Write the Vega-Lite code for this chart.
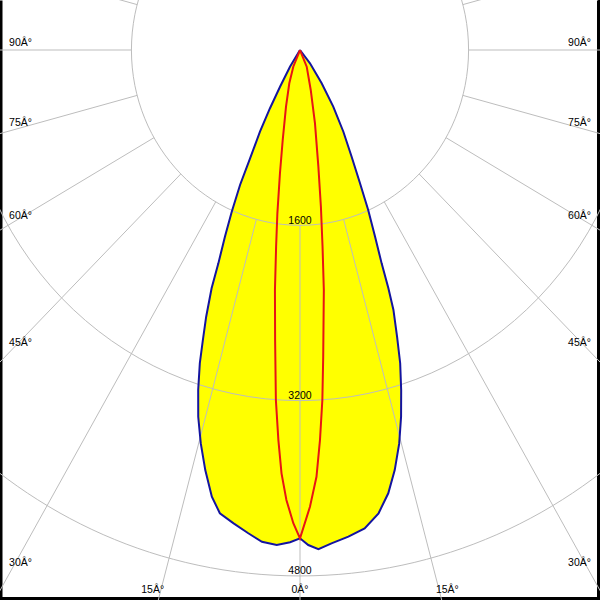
{
  "$schema": "https://vega.github.io/schema/vega-lite/v6.json",
  "width": 600,
  "height": 600,
  "padding": 0,
  "autosize": {"type": "none"},
  "background": "white",
  "config": {
    "view": {"stroke": null},
    "axis": {"labels": false, "ticks": false, "grid": false, "title": null, "domain": false},
    "text": {"font": "Liberation Sans", "fontSize": 10.5, "color": "black"}
  },
  "resolve": {"axis": {"y": "independent"}},
  "datasets": {
    "curves": [
      {"plane": "C0-C180", "angle": -34, "cd": 0},
      {"plane": "C0-C180", "angle": -31.9, "cd": 180},
      {"plane": "C0-C180", "angle": -29.5, "cd": 385},
      {"plane": "C0-C180", "angle": -28.2, "cd": 603},
      {"plane": "C0-C180", "angle": -27.0, "cd": 837},
      {"plane": "C0-C180", "angle": -25.6, "cd": 1097},
      {"plane": "C0-C180", "angle": -24.8, "cd": 1357},
      {"plane": "C0-C180", "angle": -23.7, "cd": 1612},
      {"plane": "C0-C180", "angle": -22.7, "cd": 1847},
      {"plane": "C0-C180", "angle": -21.7, "cd": 2096},
      {"plane": "C0-C180", "angle": -21.1, "cd": 2331},
      {"plane": "C0-C180", "angle": -20.1, "cd": 2592},
      {"plane": "C0-C180", "angle": -19.2, "cd": 2804},
      {"plane": "C0-C180", "angle": -18.4, "cd": 3013},
      {"plane": "C0-C180", "angle": -17.3, "cd": 3250},
      {"plane": "C0-C180", "angle": -16.1, "cd": 3484},
      {"plane": "C0-C180", "angle": -14.7, "cd": 3712},
      {"plane": "C0-C180", "angle": -13.2, "cd": 3938},
      {"plane": "C0-C180", "angle": -11.6, "cd": 4162},
      {"plane": "C0-C180", "angle": -10.2, "cd": 4296},
      {"plane": "C0-C180", "angle": -8.3, "cd": 4366},
      {"plane": "C0-C180", "angle": -6.35, "cd": 4438},
      {"plane": "C0-C180", "angle": -4.6, "cd": 4503},
      {"plane": "C0-C180", "angle": -2.8, "cd": 4523},
      {"plane": "C0-C180", "angle": -1.2, "cd": 4494},
      {"plane": "C0-C180", "angle": 0, "cd": 4457},
      {"plane": "C0-C180", "angle": 1.0, "cd": 4519},
      {"plane": "C0-C180", "angle": 2.2, "cd": 4560},
      {"plane": "C0-C180", "angle": 3.8, "cd": 4513},
      {"plane": "C0-C180", "angle": 5.9, "cd": 4466},
      {"plane": "C0-C180", "angle": 8.0, "cd": 4409},
      {"plane": "C0-C180", "angle": 10.0, "cd": 4294},
      {"plane": "C0-C180", "angle": 11.7, "cd": 4132},
      {"plane": "C0-C180", "angle": 13.2, "cd": 3938},
      {"plane": "C0-C180", "angle": 14.7, "cd": 3712},
      {"plane": "C0-C180", "angle": 16.0, "cd": 3481},
      {"plane": "C0-C180", "angle": 17.2, "cd": 3248},
      {"plane": "C0-C180", "angle": 18.4, "cd": 3013},
      {"plane": "C0-C180", "angle": 19.4, "cd": 2775},
      {"plane": "C0-C180", "angle": 20.5, "cd": 2533},
      {"plane": "C0-C180", "angle": 21.1, "cd": 2331},
      {"plane": "C0-C180", "angle": 21.7, "cd": 2096},
      {"plane": "C0-C180", "angle": 22.7, "cd": 1847},
      {"plane": "C0-C180", "angle": 23.9, "cd": 1598},
      {"plane": "C0-C180", "angle": 25.1, "cd": 1343},
      {"plane": "C0-C180", "angle": 26.7, "cd": 1091},
      {"plane": "C0-C180", "angle": 28.9, "cd": 852},
      {"plane": "C0-C180", "angle": 31.4, "cd": 606},
      {"plane": "C0-C180", "angle": 34.1, "cd": 367},
      {"plane": "C0-C180", "angle": 38.0, "cd": 154},
      {"plane": "C0-C180", "angle": 40, "cd": 0},
      {"plane": "C90-C270", "angle": -26, "cd": 0},
      {"plane": "C90-C270", "angle": -22.7, "cd": 165},
      {"plane": "C90-C270", "angle": -18.5, "cd": 320},
      {"plane": "C90-C270", "angle": -14.4, "cd": 534},
      {"plane": "C90-C270", "angle": -11.3, "cd": 838},
      {"plane": "C90-C270", "angle": -9.6, "cd": 1141},
      {"plane": "C90-C270", "angle": -8.2, "cd": 1506},
      {"plane": "C90-C270", "angle": -7.2, "cd": 1810},
      {"plane": "C90-C270", "angle": -6.2, "cd": 2203},
      {"plane": "C90-C270", "angle": -5.1, "cd": 2658},
      {"plane": "C90-C270", "angle": -4.1, "cd": 3203},
      {"plane": "C90-C270", "angle": -3.3, "cd": 3566},
      {"plane": "C90-C270", "angle": -2.6, "cd": 3868},
      {"plane": "C90-C270", "angle": -1.8, "cd": 4109},
      {"plane": "C90-C270", "angle": -0.84, "cd": 4320},
      {"plane": "C90-C270", "angle": 0, "cd": 4457},
      {"plane": "C90-C270", "angle": 1.3, "cd": 4170},
      {"plane": "C90-C270", "angle": 2.3, "cd": 3898},
      {"plane": "C90-C270", "angle": 3.05, "cd": 3565},
      {"plane": "C90-C270", "angle": 3.8, "cd": 3202},
      {"plane": "C90-C270", "angle": 4.5, "cd": 2808},
      {"plane": "C90-C270", "angle": 5.9, "cd": 2202},
      {"plane": "C90-C270", "angle": 6.8, "cd": 1808},
      {"plane": "C90-C270", "angle": 7.9, "cd": 1444},
      {"plane": "C90-C270", "angle": 9.3, "cd": 1079},
      {"plane": "C90-C270", "angle": 12.0, "cd": 684},
      {"plane": "C90-C270", "angle": 15.6, "cd": 379},
      {"plane": "C90-C270", "angle": 22.7, "cd": 165},
      {"plane": "C90-C270", "angle": 26, "cd": 0}
    ],
    "rings": [
      {"r": 1600, "label": "1600"},
      {"r": 3200, "label": "3200"},
      {"r": 4800, "label": "4800"}
    ],
    "rays": [
      {"angle": 0}, {"angle": 15}, {"angle": -15}, {"angle": 30}, {"angle": -30},
      {"angle": 45}, {"angle": -45}, {"angle": 60}, {"angle": -60}, {"angle": 75},
      {"angle": -75}, {"angle": 90}, {"angle": -90}, {"angle": 105}, {"angle": -105},
      {"angle": 120}, {"angle": -120}, {"angle": 135}, {"angle": -135}, {"angle": 150},
      {"angle": -150}, {"angle": 165}, {"angle": -165}, {"angle": 180}
    ],
    "sideLabels": [
      {"angle": -90, "label": "90Â°"}, {"angle": -75, "label": "75Â°"}, {"angle": -60, "label": "60Â°"},
      {"angle": -45, "label": "45Â°"}, {"angle": -30, "label": "30Â°"},
      {"angle": 90, "label": "90Â°"}, {"angle": 75, "label": "75Â°"}, {"angle": 60, "label": "60Â°"},
      {"angle": 45, "label": "45Â°"}, {"angle": 30, "label": "30Â°"}
    ],
    "bottomLabels": [
      {"angle": -15, "label": "15Â°"}, {"angle": 0, "label": "0Â°"}, {"angle": 15, "label": "15Â°"}
    ]
  },
  "encoding": {
    "x": {"field": "x", "type": "quantitative", "scale": {"domain": [-2848, 2848], "nice": false, "zero": false}, "axis": {"domain": true, "domainColor": "black", "domainWidth": 7}},
    "y": {"field": "y", "type": "quantitative", "scale": {"domain": [-456.4, 5020], "reverse": true, "nice": false, "zero": false}, "axis": {"domain": true, "domainColor": "black", "domainWidth": 4}}
  },
  "layer": [
    {
      "data": {"name": "curves"},
      "transform": [
        {"filter": "datum.plane == 'C0-C180'"},
        {"calculate": "datum.cd * sin(datum.angle * PI / 180)", "as": "x"},
        {"calculate": "datum.cd * cos(datum.angle * PI / 180)", "as": "y"}
      ],
      "mark": {"type": "line", "fill": "#ffff00", "strokeOpacity": 0, "clip": true},
      "encoding": {"order": {"field": "angle", "type": "quantitative"}}
    },
    {
      "data": {"name": "rings"},
      "transform": [
        {"calculate": "0", "as": "x"},
        {"calculate": "0", "as": "y"}
      ],
      "mark": {"type": "point", "shape": "M -1 0 C -1 -0.5744 -0.5523 -1.04 0 -1.04 C 0.5523 -1.04 1 -0.5744 1 0 C 1 0.5744 0.5523 1.04 0 1.04 C -0.5523 1.04 -1 0.5744 -1 0 Z", "filled": false, "stroke": "#bdbdbd", "strokeWidth": 1, "opacity": 1, "clip": true},
      "encoding": {
        "size": {"field": "r", "type": "quantitative", "scale": {"type": "pow", "exponent": 2, "domain": [0, 4800], "range": [0, 1022930]}, "legend": null}
      }
    },
    {
      "data": {"name": "rays"},
      "transform": [
        {"calculate": "1600 * sin(datum.angle * PI / 180)", "as": "x"},
        {"calculate": "1600 * cos(datum.angle * PI / 180)", "as": "y"},
        {"calculate": "20000 * sin(datum.angle * PI / 180)", "as": "x2"},
        {"calculate": "20000 * cos(datum.angle * PI / 180)", "as": "y2"}
      ],
      "mark": {"type": "rule", "stroke": "#bdbdbd", "strokeWidth": 1, "clip": true},
      "encoding": {
        "x2": {"field": "x2"},
        "y2": {"field": "y2"}
      }
    },
    {
      "data": {"name": "rings"},
      "transform": [
        {"calculate": "0", "as": "x"},
        {"calculate": "datum.r", "as": "y"}
      ],
      "mark": {"type": "text", "align": "center", "baseline": "alphabetic", "dy": -1.5},
      "encoding": {"text": {"field": "label"}}
    },
    {
      "data": {"name": "sideLabels"},
      "transform": [
        {"filter": "datum.angle < 0"},
        {"calculate": "-2762", "as": "x"},
        {"calculate": "2738 * cos(abs(datum.angle) * PI / 180) / sin(abs(datum.angle) * PI / 180)", "as": "y"}
      ],
      "mark": {"type": "text", "align": "left", "baseline": "alphabetic", "dy": -4},
      "encoding": {"text": {"field": "label"}}
    },
    {
      "data": {"name": "sideLabels"},
      "transform": [
        {"filter": "datum.angle > 0"},
        {"calculate": "2762", "as": "x"},
        {"calculate": "2738 * cos(abs(datum.angle) * PI / 180) / sin(abs(datum.angle) * PI / 180)", "as": "y"}
      ],
      "mark": {"type": "text", "align": "right", "baseline": "alphabetic", "dy": -4},
      "encoding": {"text": {"field": "label"}}
    },
    {
      "data": {"name": "bottomLabels"},
      "transform": [
        {"calculate": "5221 * tan(datum.angle * PI / 180)", "as": "x"},
        {"calculate": "4956", "as": "y"}
      ],
      "mark": {"type": "text", "align": "center", "baseline": "alphabetic"},
      "encoding": {"text": {"field": "label"}}
    },
    {
      "data": {"name": "curves"},
      "transform": [
        {"filter": "datum.plane == 'C0-C180'"},
        {"calculate": "datum.cd * sin(datum.angle * PI / 180)", "as": "x"},
        {"calculate": "datum.cd * cos(datum.angle * PI / 180)", "as": "y"}
      ],
      "mark": {"type": "line", "stroke": "#1414a0", "strokeWidth": 2, "clip": true},
      "encoding": {
        "y": {"field": "y", "type": "quantitative", "axis": {"orient": "right", "domain": true, "domainColor": "black", "domainWidth": 7}},
        "order": {"field": "angle", "type": "quantitative"}
      }
    },
    {
      "data": {"name": "curves"},
      "transform": [
        {"filter": "datum.plane == 'C90-C270'"},
        {"calculate": "datum.cd * sin(datum.angle * PI / 180)", "as": "x"},
        {"calculate": "datum.cd * cos(datum.angle * PI / 180)", "as": "y"}
      ],
      "mark": {"type": "line", "stroke": "#e81414", "strokeWidth": 2, "clip": true},
      "encoding": {"order": {"field": "angle", "type": "quantitative"}}
    }
  ]
}
